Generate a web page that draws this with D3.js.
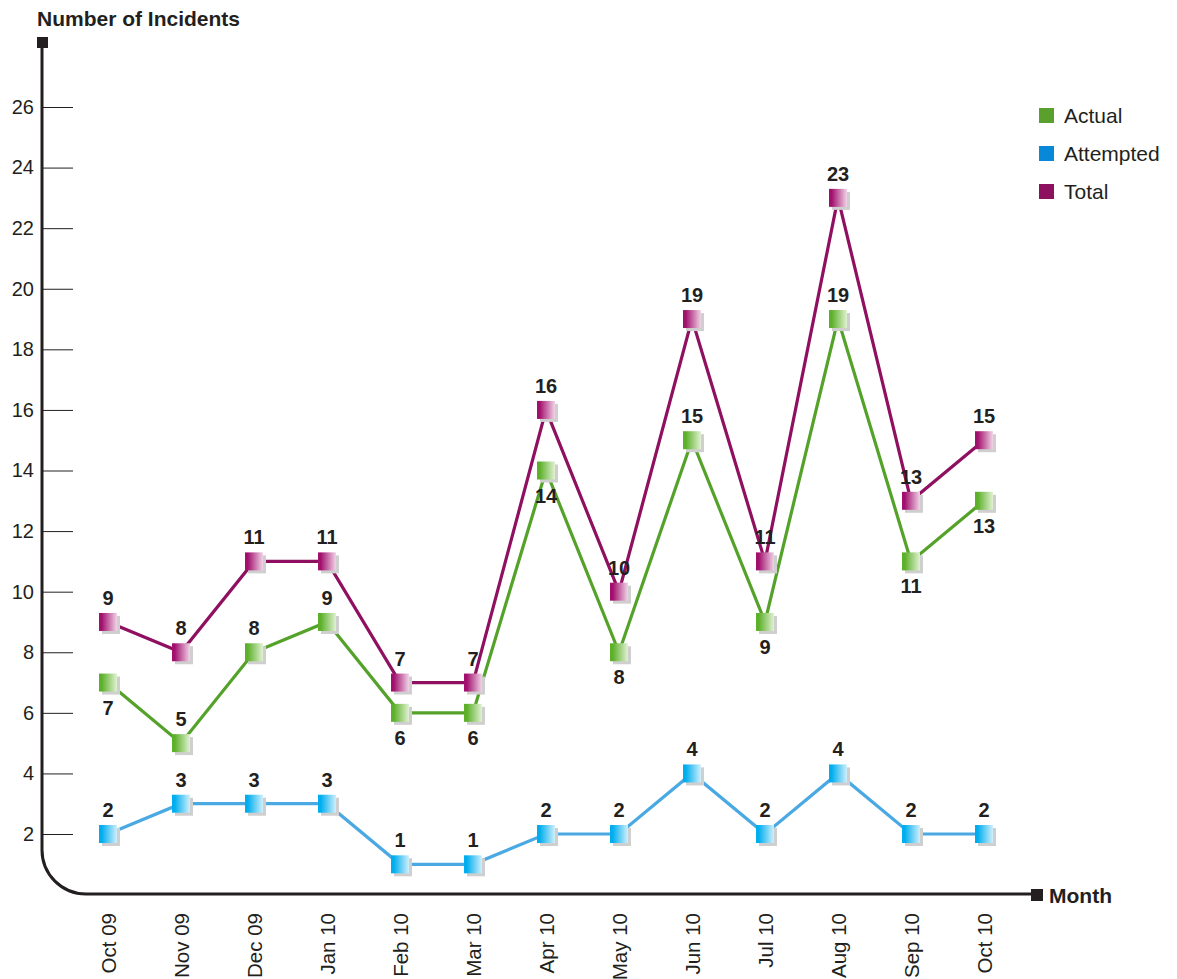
<!DOCTYPE html>
<html><head><meta charset="utf-8">
<script src="https://cdn.jsdelivr.net/npm/d3@7"></script>
<style>body{margin:0;background:#fff}svg{display:block;font-family:"Liberation Sans",Arial,Helvetica,sans-serif}</style>
</head><body>
<script>
const months = ["Oct 09","Nov 09","Dec 09","Jan 10","Feb 10","Mar 10","Apr 10","May 10","Jun 10","Jul 10","Aug 10","Sep 10","Oct 10"];
const actual = [7,5,8,9,6,6,14,8,15,9,19,11,13];
const attempted = [2,3,3,3,1,1,2,2,4,2,4,2,2];
const total = [9,8,11,11,7,7,16,10,19,11,23,13,15];
const yTicks = [2,4,6,8,10,12,14,16,18,20,22,24,26];
// label placement: 1 = above, -1 = below
const actualLabelPos = [-1,1,1,1,-1,-1,-1,-1,1,-1,1,-1,-1];

const W=1177,H=979;
const svg=d3.select("body").append("svg").attr("width",W).attr("height",H);
const x=d3.scalePoint().domain(months).range([108,984]);
const y=d3.scaleLinear().domain([0,26]).range([894.6,107]);

const defs=svg.append("defs");
function grad(id,c1,c2){
  const g=defs.append("linearGradient").attr("id",id).attr("x1","0%").attr("x2","100%").attr("y1","0").attr("y2","0");
  g.append("stop").attr("offset","15%").attr("stop-color",c1);
  g.append("stop").attr("offset","100%").attr("stop-color",c2);
}
grad("gA","#5cb02a","#e2f1d3");
grad("gB","#00aeef","#d0effb");
grad("gT","#a2106e","#f1d4e7");

// axes
const ax0=42, ay0=894, r=44;
svg.append("path").attr("d",`M${ax0},44 L${ax0},${ay0-r} A${r},${r} 0 0 0 ${ax0+r},${ay0} L1036,${ay0}`)
  .attr("fill","none").attr("stroke","#231f20").attr("stroke-width",3);
svg.append("rect").attr("x",37).attr("y",37).attr("width",11).attr("height",11).attr("fill","#231f20");
svg.append("rect").attr("x",1031).attr("y",889).attr("width",12).attr("height",12).attr("fill","#231f20");
svg.append("text").attr("x",37).attr("y",26).attr("font-size",21).attr("font-weight","bold").attr("fill","#231f20").text("Number of Incidents");
svg.append("text").attr("x",1049).attr("y",903).attr("font-size",21).attr("font-weight","bold").attr("fill","#231f20").text("Month");

const yAxis=d3.axisRight(y).tickValues(yTicks).tickSize(31).tickFormat(d=>d);
const ya=svg.append("g").attr("transform",`translate(${ax0},0)`).call(yAxis);
ya.select(".domain").remove();
ya.selectAll(".tick line").attr("stroke","#231f20").attr("stroke-width",1);
ya.selectAll(".tick text").attr("x",-8).attr("text-anchor","end").attr("font-size",20).attr("fill","#231f20").attr("font-family","'Liberation Sans',Arial,sans-serif");

const xAxis=d3.axisBottom(x).tickSize(0);
const xa=svg.append("g").attr("transform",`translate(0,${ay0})`).call(xAxis);
xa.select(".domain").remove();
xa.selectAll(".tick text").attr("transform","rotate(-90)").attr("x",-19).attr("y",0).attr("dy","0.36em")
  .attr("text-anchor","end").attr("font-size",20.5).attr("fill","#231f20").attr("font-family","'Liberation Sans',Arial,sans-serif");

const series=[
  {name:"Actual",vals:actual,line:"#55a22b",legend:"#5aa02c",grad:"gA",pos:actualLabelPos},
  {name:"Attempted",vals:attempted,line:"#4aa9e2",legend:"#0788d8",grad:"gB",pos:attempted.map(()=>1)},
  {name:"Total",vals:total,line:"#8f1060",legend:"#8e1160",grad:"gT",pos:total.map(()=>1)}
];
const line=d3.line().x((d,i)=>x(months[i])).y(d=>y(d));
series.forEach(s=>{
  svg.append("path").attr("d",line(s.vals)).attr("fill","none").attr("stroke",s.line).attr("stroke-width",3.2);
});
series.forEach(s=>{
  const g=svg.append("g");
  s.vals.forEach((v,i)=>{
    const cx=x(months[i]), cy=y(v);
    g.append("rect").attr("x",cx-9+3).attr("y",cy-9+3).attr("width",18).attr("height",18).attr("fill","#cfcfcf");
    g.append("rect").attr("x",cx-9).attr("y",cy-9).attr("width",18).attr("height",18).attr("fill",`url(#${s.grad})`);
  });
});
series.forEach(s=>{
  s.vals.forEach((v,i)=>{
    const cx=x(months[i]), cy=y(v);
    svg.append("text").attr("x",cx).attr("y",s.pos[i]>0?cy-17:cy+32).attr("text-anchor","middle")
      .attr("font-size",20).attr("font-weight","bold").attr("fill","#231f20").text(v);
  });
});

// legend
const lg=svg.append("g");
series.forEach((s,i)=>{
  lg.append("rect").attr("x",1039).attr("y",108+i*38).attr("width",15).attr("height",15).attr("fill",s.legend);
  lg.append("text").attr("x",1064).attr("y",123+i*38).attr("font-size",21).attr("fill","#231f20").text(s.name);
});
</script>
</body></html>
